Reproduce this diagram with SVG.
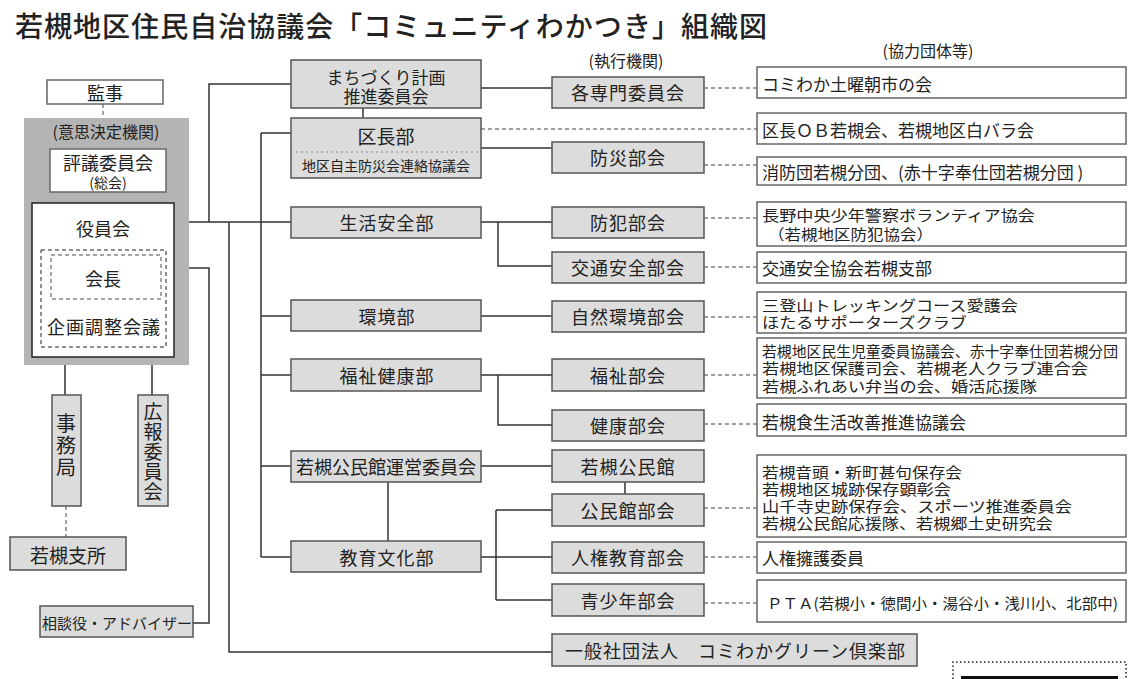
<svg xmlns="http://www.w3.org/2000/svg" width="1140" height="679" viewBox="0 0 1140 679">
<style>
.g{fill:#dcdcdc;stroke:#555;stroke-width:1.5}
.w{fill:#fff;stroke:#666;stroke-width:1.5}
.t{font-family:"Noto Sans CJK JP","Noto Sans CJK SC",sans-serif;fill:#222;dominant-baseline:central}
.c{text-anchor:middle}
.f18{font-size:18px}
.f17{font-size:17px}
.f15{font-size:15px}
.ln{stroke:#333;stroke-width:1.5;fill:none}
.ds{stroke:#444;stroke-width:1;stroke-dasharray:4 3;fill:none}
</style>
<rect width="1140" height="679" fill="#fff"/>
<text class="t" x="15" y="25" font-size="28" font-weight="500" textLength="752">若槻地区住民自治協議会「コミュニティわかつき」組織図</text>
<text class="t c" x="626" y="60" font-size="16">(執行機関)</text>
<text class="t c" x="928" y="50" font-size="16">(協力団体等)</text>

<g id="connectors">
  <path class="ds" d="M103 104V118"/>
  <path class="ln" d="M103 192V203"/>
  <path class="ln" d="M65 357V395M152 357V395"/>
  <path class="ds" d="M66 506V537"/>
  <path class="ln" d="M189 222H291M209 222V84H291M229 222V652H552M261 133V557M261 133H291M261 316H291M261 375H291M261 466H291M261 557H291"/>
  <path class="ln" d="M189 268H209V623H193"/>
  <path class="ln" d="M481 88H552"/>
  <path class="ln" d="M363 108V118"/>
  <path class="ln" d="M481 148H552"/>
  <path class="ln" d="M481 222H552M498 222V266H552"/>
  <path class="ln" d="M481 316H552"/>
  <path class="ln" d="M481 375H552M498 375V425H552"/>
  <path class="ln" d="M481 466H552M625 482V494"/>
  <path class="ln" d="M388 482V541"/>
  <path class="ln" d="M481 557H552M496 510V600M496 510H552M496 600H552"/>
  <path class="ds" d="M481 129H757"/>
  <path class="ds" d="M704 88H757M704 165H757M704 218H757M704 267H757M704 317H757M704 375H757M704 424H757M704 508H757M704 557H757M704 603H757"/>
</g>

<g id="kanji"><rect class="w" x="47" y="80" width="116" height="24"/><text class="t c f18" x="105" y="92">監事</text></g>
<g id="ishikettei">
  <rect x="24" y="118" width="165" height="247" fill="#b4b4b4"/>
  <text class="t c" x="106" y="131" font-size="16">(意思決定機関)</text>
</g>
<g id="hyogi"><rect class="w" x="50" y="149" width="116" height="43"/><text class="t c f18" x="108" y="162">評議委員会</text><text class="t c" x="108" y="182" font-size="14">(総会)</text></g>
<g id="yakuin">
  <rect x="32" y="203" width="142" height="154" fill="#fff" stroke="#222" stroke-width="1.5"/>
  <text class="t c f18" x="103" y="228">役員会</text>
  <rect x="41" y="250" width="125" height="97" fill="none" stroke="#222" stroke-width="1" stroke-dasharray="4 3"/>
  <rect x="51" y="255" width="110" height="44" fill="none" stroke="#888" stroke-width="1.5" stroke-dasharray="4 3"/>
  <text class="t c f18" x="103" y="278">会長</text>
  <text class="t c f18" x="104" y="326" letter-spacing="1">企画調整会議</text>
</g>
<g id="jimukyoku"><rect class="g" x="52" y="395" width="29" height="111"/><text class="t c" x="66" y="446" font-size="20" writing-mode="vertical-rl" letter-spacing="2">事務局</text></g>
<g id="koho"><rect class="g" x="138" y="395" width="30" height="111"/><text class="t c" x="153" y="452" font-size="19" writing-mode="vertical-rl" letter-spacing="1">広報委員会</text></g>
<g id="shisho"><rect class="g" x="10" y="537" width="116" height="33"/><text class="t c" x="68" y="554" font-size="19">若槻支所</text></g>
<g id="sodan"><rect class="g" x="40" y="606" width="153" height="31"/><text class="t c" x="117" y="622" font-size="15">相談役・アドバイザー</text></g>

<g id="machi"><rect class="g" x="291" y="60" width="190" height="48"/><text class="t c f17" x="386" y="76">まちづくり計画</text><text class="t c f17" x="386" y="95">推進委員会</text></g>
<g id="kucho"><rect class="g" x="291" y="118" width="190" height="60"/><line x1="291" y1="152" x2="481" y2="152" stroke="#888" stroke-width="1.2" stroke-dasharray="2 3"/><text class="t c" x="386" y="135" font-size="19">区長部</text><text class="t c" x="386" y="165" font-size="14">地区自主防災会連絡協議会</text></g>
<g id="seikatsu"><rect class="g" x="291" y="207" width="190" height="31"/><text class="t c f18" x="387" y="222" letter-spacing="1">生活安全部</text></g>
<g id="kankyo"><rect class="g" x="291" y="300" width="190" height="31"/><text class="t c f18" x="387" y="316" letter-spacing="1">環境部</text></g>
<g id="fukushikenko"><rect class="g" x="291" y="359" width="190" height="32"/><text class="t c f18" x="387" y="375" letter-spacing="1">福祉健康部</text></g>
<g id="komin-unei"><rect class="g" x="291" y="451" width="190" height="31"/><text class="t c f18" x="386" y="466">若槻公民館運営委員会</text></g>
<g id="kyoiku"><rect class="g" x="291" y="541" width="190" height="31"/><text class="t c f18" x="387" y="557" letter-spacing="1">教育文化部</text></g>

<g id="senmon"><rect class="g" x="552" y="77" width="152" height="31"/><text class="t c f18" x="628" y="92" letter-spacing="1">各専門委員会</text></g>
<g id="bosai"><rect class="g" x="552" y="142" width="152" height="31"/><text class="t c f18" x="628" y="157" letter-spacing="1">防災部会</text></g>
<g id="bohan"><rect class="g" x="552" y="207" width="152" height="31"/><text class="t c f18" x="628" y="222" letter-spacing="1">防犯部会</text></g>
<g id="kotsu"><rect class="g" x="552" y="252" width="152" height="31"/><text class="t c f18" x="628" y="267" letter-spacing="1">交通安全部会</text></g>
<g id="shizen"><rect class="g" x="552" y="301" width="152" height="31"/><text class="t c f18" x="628" y="316" letter-spacing="1">自然環境部会</text></g>
<g id="fukushi"><rect class="g" x="552" y="359" width="152" height="32"/><text class="t c f18" x="628" y="375" letter-spacing="1">福祉部会</text></g>
<g id="kenko"><rect class="g" x="552" y="410" width="152" height="31"/><text class="t c f18" x="628" y="425" letter-spacing="1">健康部会</text></g>
<g id="kominkan"><rect class="g" x="552" y="450" width="152" height="32"/><text class="t c f18" x="628" y="466" letter-spacing="1">若槻公民館</text></g>
<g id="kominbukai"><rect class="g" x="552" y="494" width="152" height="32"/><text class="t c f18" x="628" y="510" letter-spacing="1">公民館部会</text></g>
<g id="jinken"><rect class="g" x="552" y="542" width="152" height="31"/><text class="t c f18" x="628" y="557" letter-spacing="1">人権教育部会</text></g>
<g id="seishonen"><rect class="g" x="552" y="584" width="152" height="32"/><text class="t c f18" x="628" y="600" letter-spacing="1">青少年部会</text></g>
<g id="green"><rect class="g" x="552" y="634" width="365" height="32"/><text class="t f18" x="565" y="650" letter-spacing="1">一般社団法人　コミわかグリーン倶楽部</text></g>

<g id="k-asaichi"><rect class="w" x="757" y="67" width="369" height="31"/><text class="t f17" x="762" y="83">コミわか土曜朝市の会</text></g>
<g id="k-kucho"><rect class="w" x="757" y="113" width="369" height="31"/><text class="t f17" x="762" y="129">区長ＯＢ若槻会、若槻地区白バラ会</text></g>
<g id="k-shobo"><rect class="w" x="757" y="157" width="369" height="28"/><text class="t f17" x="762" y="171">消防団若槻分団、(赤十字奉仕団若槻分団 )</text></g>
<g id="k-nagano"><rect class="w" x="757" y="202" width="369" height="44"/><text class="t f15" x="762" y="214" textLength="273" lengthAdjust="spacingAndGlyphs">長野中央少年警察ボランティア協会</text><text class="t f15" x="768" y="233" textLength="165" lengthAdjust="spacingAndGlyphs">（若槻地区防犯協会）</text></g>
<g id="k-kotsu"><rect class="w" x="757" y="252" width="369" height="31"/><text class="t f17" x="762" y="267">交通安全協会若槻支部</text></g>
<g id="k-mitoyama"><rect class="w" x="757" y="292" width="369" height="41"/><text class="t f15" x="762" y="304" textLength="256" lengthAdjust="spacingAndGlyphs">三登山トレッキングコース愛護会</text><text class="t f15" x="762" y="321" textLength="205" lengthAdjust="spacingAndGlyphs">ほたるサポーターズクラブ</text></g>
<g id="k-minsei"><rect class="w" x="757" y="338" width="369" height="60"/><text class="t f15" x="762" y="350" textLength="356" lengthAdjust="spacingAndGlyphs">若槻地区民生児童委員協議会、赤十字奉仕団若槻分団</text><text class="t f15" x="762" y="367" textLength="326" lengthAdjust="spacingAndGlyphs">若槻地区保護司会、若槻老人クラブ連合会</text><text class="t f15" x="762" y="385" textLength="275" lengthAdjust="spacingAndGlyphs">若槻ふれあい弁当の会、婚活応援隊</text></g>
<g id="k-shoku"><rect class="w" x="757" y="404" width="369" height="32"/><text class="t f17" x="762" y="421">若槻食生活改善推進協議会</text></g>
<g id="k-ondo"><rect class="w" x="757" y="455" width="369" height="82"/><text class="t f15" x="762" y="471" textLength="200" lengthAdjust="spacingAndGlyphs">若槻音頭・新町甚句保存会</text><text class="t f15" x="762" y="488" textLength="189" lengthAdjust="spacingAndGlyphs">若槻地区城跡保存顕彰会</text><text class="t f15" x="762" y="505" textLength="310" lengthAdjust="spacingAndGlyphs">山千寺史跡保存会、スポーツ推進委員会</text><text class="t f15" x="762" y="522" textLength="291" lengthAdjust="spacingAndGlyphs">若槻公民館応援隊、若槻郷土史研究会</text></g>
<g id="k-jinken"><rect class="w" x="757" y="542" width="369" height="31"/><text class="t f17" x="762" y="557">人権擁護委員</text></g>
<g id="k-pta"><rect class="w" x="757" y="580" width="369" height="42"/><text class="t" x="767" y="602" font-size="15" textLength="351" lengthAdjust="spacingAndGlyphs">ＰＴＡ(若槻小・徳間小・湯谷小・浅川小、北部中)</text></g>

<path d="M953 679V662H1126V679" fill="none" stroke="#222" stroke-width="1.5" stroke-dasharray="1.5 2.5"/>
<rect x="961" y="676" width="157" height="3" fill="#111"/>
</svg>
